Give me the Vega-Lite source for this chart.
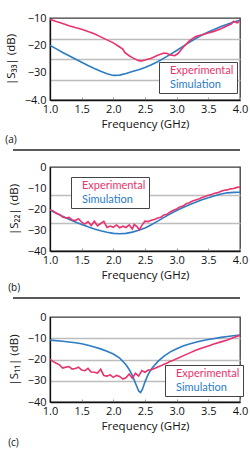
{
  "$schema": "https://vega.github.io/schema/vega-lite/v6.json",
  "padding": {"left": 4, "top": 11, "right": 4, "bottom": 0},
  "background": "white",
  "spacing": 2,
  "resolve": {"scale": {"color": "independent"}, "legend": {"color": "independent"}},
  "config": {
    "font": "Open Sans",
    "view": {"stroke": "#3a3a3a", "strokeWidth": 1.3},
    "axis": {
      "labelFont": "Open Sans", "labelFontSize": 11, "labelColor": "#111",
      "titleFont": "Open Sans", "titleFontSize": 11.5, "titleFontWeight": "normal", "titleColor": "#111",
      "domainColor": "#111", "domainWidth": 1.3,
      "gridColor": "#bdbdbd", "gridWidth": 1.4,
      "labelFlush": false, "labelOverlap": false
    },
    "axisX": {"grid": false, "tickSize": -3, "tickColor": "#9a9a9a", "tickWidth": 1, "labelPadding": 6, "titlePadding": 4},
    "axisY": {"ticks": false, "labelPadding": 4, "titlePadding": 8},
    "legend": {
      "orient": "none", "title": null,
      "symbolType": "circle", "symbolSize": 0.01, "symbolStrokeWidth": 0.01, "symbolOpacity": 0, "labelOffset": -3,
      "strokeColor": "#444", "fillColor": "white", "padding": 3, "rowPadding": 2,
      "labelFont": "Lato", "labelFontSize": 11
    },
    "title": {"font": "Open Sans", "fontSize": 10, "fontWeight": "normal", "color": "#111", "orient": "bottom", "anchor": "start", "frame": "bounds"},
    "line": {"strokeWidth": 1.6}
  },
  "vconcat": [
    {
      "width": 190, "height": 82,
      "title": {"text": "(a)", "offset": 5},
      "data": {"values": [
        {"f": 1.0, "dB": -20.0, "series": "Simulation"},
        {"f": 1.1, "dB": -21.3, "series": "Simulation"},
        {"f": 1.2, "dB": -22.6, "series": "Simulation"},
        {"f": 1.3, "dB": -23.8, "series": "Simulation"},
        {"f": 1.4, "dB": -25.0, "series": "Simulation"},
        {"f": 1.5, "dB": -26.2, "series": "Simulation"},
        {"f": 1.6, "dB": -27.4, "series": "Simulation"},
        {"f": 1.7, "dB": -28.5, "series": "Simulation"},
        {"f": 1.8, "dB": -29.5, "series": "Simulation"},
        {"f": 1.9, "dB": -30.4, "series": "Simulation"},
        {"f": 2.0, "dB": -31.0, "series": "Simulation"},
        {"f": 2.1, "dB": -30.9, "series": "Simulation"},
        {"f": 2.2, "dB": -30.3, "series": "Simulation"},
        {"f": 2.3, "dB": -29.6, "series": "Simulation"},
        {"f": 2.4, "dB": -28.9, "series": "Simulation"},
        {"f": 2.5, "dB": -28.1, "series": "Simulation"},
        {"f": 2.6, "dB": -27.1, "series": "Simulation"},
        {"f": 2.7, "dB": -26.0, "series": "Simulation"},
        {"f": 2.8, "dB": -24.7, "series": "Simulation"},
        {"f": 2.9, "dB": -23.3, "series": "Simulation"},
        {"f": 3.0, "dB": -21.9, "series": "Simulation"},
        {"f": 3.1, "dB": -20.4, "series": "Simulation"},
        {"f": 3.2, "dB": -18.9, "series": "Simulation"},
        {"f": 3.3, "dB": -17.5, "series": "Simulation"},
        {"f": 3.4, "dB": -16.2, "series": "Simulation"},
        {"f": 3.5, "dB": -15.1, "series": "Simulation"},
        {"f": 3.6, "dB": -14.1, "series": "Simulation"},
        {"f": 3.7, "dB": -13.1, "series": "Simulation"},
        {"f": 3.8, "dB": -12.3, "series": "Simulation"},
        {"f": 3.9, "dB": -11.5, "series": "Simulation"},
        {"f": 4.0, "dB": -10.8, "series": "Simulation"},
        {"f": 1.0, "dB": -10.5, "series": "Experimental"},
        {"f": 1.1, "dB": -11.3, "series": "Experimental"},
        {"f": 1.2, "dB": -12.0, "series": "Experimental"},
        {"f": 1.3, "dB": -12.8, "series": "Experimental"},
        {"f": 1.4, "dB": -13.5, "series": "Experimental"},
        {"f": 1.5, "dB": -14.1, "series": "Experimental"},
        {"f": 1.6, "dB": -14.9, "series": "Experimental"},
        {"f": 1.7, "dB": -15.8, "series": "Experimental"},
        {"f": 1.8, "dB": -16.9, "series": "Experimental"},
        {"f": 1.9, "dB": -18.0, "series": "Experimental"},
        {"f": 2.0, "dB": -19.1, "series": "Experimental"},
        {"f": 2.1, "dB": -20.6, "series": "Experimental"},
        {"f": 2.15, "dB": -21.4, "series": "Experimental"},
        {"f": 2.18, "dB": -22.6, "series": "Experimental"},
        {"f": 2.25, "dB": -23.8, "series": "Experimental"},
        {"f": 2.3, "dB": -24.5, "series": "Experimental"},
        {"f": 2.4, "dB": -25.6, "series": "Experimental"},
        {"f": 2.45, "dB": -25.7, "series": "Experimental"},
        {"f": 2.5, "dB": -25.4, "series": "Experimental"},
        {"f": 2.6, "dB": -24.7, "series": "Experimental"},
        {"f": 2.7, "dB": -23.6, "series": "Experimental"},
        {"f": 2.8, "dB": -22.8, "series": "Experimental"},
        {"f": 2.85, "dB": -23.0, "series": "Experimental"},
        {"f": 2.9, "dB": -23.5, "series": "Experimental"},
        {"f": 2.97, "dB": -23.8, "series": "Experimental"},
        {"f": 3.02, "dB": -23.0, "series": "Experimental"},
        {"f": 3.1, "dB": -20.8, "series": "Experimental"},
        {"f": 3.2, "dB": -18.4, "series": "Experimental"},
        {"f": 3.3, "dB": -16.8, "series": "Experimental"},
        {"f": 3.4, "dB": -16.1, "series": "Experimental"},
        {"f": 3.5, "dB": -15.5, "series": "Experimental"},
        {"f": 3.6, "dB": -14.8, "series": "Experimental"},
        {"f": 3.7, "dB": -13.9, "series": "Experimental"},
        {"f": 3.8, "dB": -12.8, "series": "Experimental"},
        {"f": 3.86, "dB": -12.2, "series": "Experimental"},
        {"f": 3.9, "dB": -11.2, "series": "Experimental"},
        {"f": 3.93, "dB": -11.6, "series": "Experimental"},
        {"f": 3.96, "dB": -11.8, "series": "Experimental"},
        {"f": 4.0, "dB": -10.8, "series": "Experimental"}
      ]},
      "mark": {"type": "line", "clip": true},
      "encoding": {
        "x": {"field": "f", "type": "quantitative", "scale": {"domain": [1, 4], "nice": false},
              "axis": {"title": "Frequency (GHz)", "values": [1, 1.5, 2, 2.5, 3, 3.5, 4], "format": ".1f"}},
        "y": {"field": "dB", "type": "quantitative", "scale": {"domain": [-40, -10], "nice": false},
              "axis": {"title": "|S₃₃| (dB)", "values": [-10, -17.5, -20, -25, -30, -32.5, -40], "labelOverlap": false,
                       "labelExpr": "indexof([-10, -20, -30, -40], datum.value) < 0 ? '' : (datum.value === -40 ? '−4.0' : format(datum.value, 'd'))",
                       "gridOpacity": {"condition": {"test": "indexof([-17.5, -25, -32.5], datum.value) >= 0", "value": 1}, "value": 0}}},
        "color": {"field": "series", "type": "nominal",
                  "scale": {"domain": ["Experimental", "Simulation"], "range": ["#e8336d", "#2b7cc4"]},
                  "legend": {"legendX": 109, "legendY": 44,
                             "labelColor": {"expr": "datum.value === 'Experimental' ? '#e8336d' : '#2b7cc4'"}}}
      }
    },
    {
      "width": 190, "height": 84,
      "title": {"text": "(b)", "offset": 2},
      "data": {"values": [
        {"f": 1.0, "dB": -20.5, "series": "Simulation"},
        {"f": 1.1, "dB": -22.0, "series": "Simulation"},
        {"f": 1.2, "dB": -23.5, "series": "Simulation"},
        {"f": 1.3, "dB": -24.9, "series": "Simulation"},
        {"f": 1.4, "dB": -26.2, "series": "Simulation"},
        {"f": 1.5, "dB": -27.4, "series": "Simulation"},
        {"f": 1.6, "dB": -28.5, "series": "Simulation"},
        {"f": 1.7, "dB": -29.5, "series": "Simulation"},
        {"f": 1.8, "dB": -30.4, "series": "Simulation"},
        {"f": 1.9, "dB": -31.1, "series": "Simulation"},
        {"f": 2.0, "dB": -31.6, "series": "Simulation"},
        {"f": 2.1, "dB": -31.8, "series": "Simulation"},
        {"f": 2.2, "dB": -31.6, "series": "Simulation"},
        {"f": 2.3, "dB": -31.0, "series": "Simulation"},
        {"f": 2.4, "dB": -30.1, "series": "Simulation"},
        {"f": 2.5, "dB": -29.0, "series": "Simulation"},
        {"f": 2.6, "dB": -27.5, "series": "Simulation"},
        {"f": 2.7, "dB": -25.8, "series": "Simulation"},
        {"f": 2.8, "dB": -24.0, "series": "Simulation"},
        {"f": 2.9, "dB": -22.3, "series": "Simulation"},
        {"f": 3.0, "dB": -20.7, "series": "Simulation"},
        {"f": 3.1, "dB": -19.3, "series": "Simulation"},
        {"f": 3.2, "dB": -18.0, "series": "Simulation"},
        {"f": 3.3, "dB": -16.8, "series": "Simulation"},
        {"f": 3.4, "dB": -15.6, "series": "Simulation"},
        {"f": 3.5, "dB": -14.6, "series": "Simulation"},
        {"f": 3.6, "dB": -13.7, "series": "Simulation"},
        {"f": 3.7, "dB": -12.9, "series": "Simulation"},
        {"f": 3.8, "dB": -12.3, "series": "Simulation"},
        {"f": 3.9, "dB": -12.1, "series": "Simulation"},
        {"f": 4.0, "dB": -12.0, "series": "Simulation"},
        {"f": 1.0, "dB": -20.3, "series": "Experimental"},
        {"f": 1.05, "dB": -21.0, "series": "Experimental"},
        {"f": 1.1, "dB": -22.0, "series": "Experimental"},
        {"f": 1.15, "dB": -22.6, "series": "Experimental"},
        {"f": 1.2, "dB": -23.8, "series": "Experimental"},
        {"f": 1.25, "dB": -24.3, "series": "Experimental"},
        {"f": 1.3, "dB": -24.0, "series": "Experimental"},
        {"f": 1.35, "dB": -25.2, "series": "Experimental"},
        {"f": 1.4, "dB": -25.5, "series": "Experimental"},
        {"f": 1.45, "dB": -24.6, "series": "Experimental"},
        {"f": 1.5, "dB": -26.3, "series": "Experimental"},
        {"f": 1.55, "dB": -27.2, "series": "Experimental"},
        {"f": 1.6, "dB": -26.0, "series": "Experimental"},
        {"f": 1.65, "dB": -27.8, "series": "Experimental"},
        {"f": 1.7, "dB": -25.8, "series": "Experimental"},
        {"f": 1.75, "dB": -28.0, "series": "Experimental"},
        {"f": 1.8, "dB": -26.9, "series": "Experimental"},
        {"f": 1.85, "dB": -25.9, "series": "Experimental"},
        {"f": 1.9, "dB": -28.8, "series": "Experimental"},
        {"f": 1.95, "dB": -28.1, "series": "Experimental"},
        {"f": 2.0, "dB": -28.7, "series": "Experimental"},
        {"f": 2.05, "dB": -27.6, "series": "Experimental"},
        {"f": 2.1, "dB": -28.9, "series": "Experimental"},
        {"f": 2.15, "dB": -28.2, "series": "Experimental"},
        {"f": 2.2, "dB": -28.8, "series": "Experimental"},
        {"f": 2.25, "dB": -27.6, "series": "Experimental"},
        {"f": 2.3, "dB": -29.5, "series": "Experimental"},
        {"f": 2.33, "dB": -27.3, "series": "Experimental"},
        {"f": 2.38, "dB": -28.6, "series": "Experimental"},
        {"f": 2.41, "dB": -30.0, "series": "Experimental"},
        {"f": 2.45, "dB": -27.8, "series": "Experimental"},
        {"f": 2.5, "dB": -25.8, "series": "Experimental"},
        {"f": 2.55, "dB": -26.0, "series": "Experimental"},
        {"f": 2.6, "dB": -25.4, "series": "Experimental"},
        {"f": 2.65, "dB": -25.0, "series": "Experimental"},
        {"f": 2.7, "dB": -24.3, "series": "Experimental"},
        {"f": 2.75, "dB": -23.9, "series": "Experimental"},
        {"f": 2.8, "dB": -22.8, "series": "Experimental"},
        {"f": 2.85, "dB": -22.5, "series": "Experimental"},
        {"f": 2.9, "dB": -21.4, "series": "Experimental"},
        {"f": 2.95, "dB": -20.6, "series": "Experimental"},
        {"f": 3.0, "dB": -20.0, "series": "Experimental"},
        {"f": 3.05, "dB": -19.0, "series": "Experimental"},
        {"f": 3.1, "dB": -18.6, "series": "Experimental"},
        {"f": 3.15, "dB": -17.5, "series": "Experimental"},
        {"f": 3.2, "dB": -17.0, "series": "Experimental"},
        {"f": 3.25, "dB": -16.2, "series": "Experimental"},
        {"f": 3.3, "dB": -15.7, "series": "Experimental"},
        {"f": 3.35, "dB": -15.2, "series": "Experimental"},
        {"f": 3.4, "dB": -14.5, "series": "Experimental"},
        {"f": 3.45, "dB": -14.1, "series": "Experimental"},
        {"f": 3.5, "dB": -13.5, "series": "Experimental"},
        {"f": 3.55, "dB": -13.1, "series": "Experimental"},
        {"f": 3.6, "dB": -12.5, "series": "Experimental"},
        {"f": 3.65, "dB": -12.2, "series": "Experimental"},
        {"f": 3.7, "dB": -11.6, "series": "Experimental"},
        {"f": 3.75, "dB": -11.1, "series": "Experimental"},
        {"f": 3.8, "dB": -10.9, "series": "Experimental"},
        {"f": 3.85, "dB": -10.4, "series": "Experimental"},
        {"f": 3.9, "dB": -10.2, "series": "Experimental"},
        {"f": 3.95, "dB": -9.7, "series": "Experimental"},
        {"f": 4.0, "dB": -9.5, "series": "Experimental"}
      ]},
      "layer": [
        {
          "mark": {"type": "line", "clip": true},
          "encoding": {
            "x": {"field": "f", "type": "quantitative", "scale": {"domain": [1, 4], "nice": false},
                  "axis": {"title": "Frequency (GHz)", "values": [1, 1.5, 2, 2.5, 3, 3.5, 4], "format": ".1f"}},
            "y": {"field": "dB", "type": "quantitative", "scale": {"domain": [-40, 0], "nice": false},
                  "axis": {"title": "|S₂₂| (dB)", "values": [0, -10, -13.33, -20, -26.67, -30, -40], "labelOverlap": false,
                           "labelExpr": "indexof([0, -10, -20, -30, -40], datum.value) < 0 ? '' : format(datum.value, 'd')",
                           "gridOpacity": {"condition": {"test": "indexof([-13.33, -26.67], datum.value) >= 0", "value": 1}, "value": 0}}},
            "color": {"field": "series", "type": "nominal",
                      "scale": {"domain": ["Experimental", "Simulation"], "range": ["#e8336d", "#2b7cc4"]},
                      "legend": {"legendX": 21, "legendY": 10,
                                 "labelColor": {"expr": "datum.value === 'Experimental' ? '#e8336d' : '#2b7cc4'"}}}
          }
        },
        {
          "mark": {"type": "rule", "color": "#5a5a5a", "strokeWidth": 1},
          "encoding": {
            "x": {"datum": 0.42, "type": "quantitative", "scale": {"domain": [1, 4], "nice": false},
                  "axis": {"title": "Frequency (GHz)", "values": [1, 1.5, 2, 2.5, 3, 3.5, 4], "format": ".1f"}},
            "x2": {"datum": 4.0},
            "y": {"datum": 8.2, "type": "quantitative", "scale": {"domain": [-40, 0], "nice": false},
                  "axis": {"title": "|S₂₂| (dB)", "values": [0, -10, -13.33, -20, -26.67, -30, -40], "labelOverlap": false,
                           "labelExpr": "indexof([0, -10, -20, -30, -40], datum.value) < 0 ? '' : format(datum.value, 'd')",
                           "gridOpacity": {"condition": {"test": "indexof([-13.33, -26.67], datum.value) >= 0", "value": 1}, "value": 0}}}
          }
        }
      ]
    },
    {
      "width": 190, "height": 85,
      "title": {"text": "(c)", "offset": 6},
      "data": {"values": [
        {"f": 1.0, "dB": -10.9, "series": "Simulation"},
        {"f": 1.2, "dB": -11.4, "series": "Simulation"},
        {"f": 1.4, "dB": -12.1, "series": "Simulation"},
        {"f": 1.5, "dB": -12.6, "series": "Simulation"},
        {"f": 1.6, "dB": -13.3, "series": "Simulation"},
        {"f": 1.7, "dB": -14.1, "series": "Simulation"},
        {"f": 1.8, "dB": -15.0, "series": "Simulation"},
        {"f": 1.9, "dB": -16.1, "series": "Simulation"},
        {"f": 2.0, "dB": -17.4, "series": "Simulation"},
        {"f": 2.1, "dB": -19.3, "series": "Simulation"},
        {"f": 2.2, "dB": -22.5, "series": "Simulation"},
        {"f": 2.25, "dB": -24.7, "series": "Simulation"},
        {"f": 2.3, "dB": -27.5, "series": "Simulation"},
        {"f": 2.35, "dB": -31.2, "series": "Simulation"},
        {"f": 2.4, "dB": -34.8, "series": "Simulation"},
        {"f": 2.43, "dB": -35.5, "series": "Simulation"},
        {"f": 2.46, "dB": -34.0, "series": "Simulation"},
        {"f": 2.5, "dB": -30.5, "series": "Simulation"},
        {"f": 2.55, "dB": -27.0, "series": "Simulation"},
        {"f": 2.6, "dB": -24.5, "series": "Simulation"},
        {"f": 2.7, "dB": -21.0, "series": "Simulation"},
        {"f": 2.8, "dB": -18.4, "series": "Simulation"},
        {"f": 2.9, "dB": -16.4, "series": "Simulation"},
        {"f": 3.0, "dB": -14.9, "series": "Simulation"},
        {"f": 3.1, "dB": -13.7, "series": "Simulation"},
        {"f": 3.2, "dB": -12.7, "series": "Simulation"},
        {"f": 3.3, "dB": -11.9, "series": "Simulation"},
        {"f": 3.4, "dB": -11.2, "series": "Simulation"},
        {"f": 3.5, "dB": -10.6, "series": "Simulation"},
        {"f": 3.6, "dB": -10.1, "series": "Simulation"},
        {"f": 3.7, "dB": -9.6, "series": "Simulation"},
        {"f": 3.8, "dB": -9.2, "series": "Simulation"},
        {"f": 3.9, "dB": -8.8, "series": "Simulation"},
        {"f": 4.0, "dB": -8.5, "series": "Simulation"},
        {"f": 1.0, "dB": -19.8, "series": "Experimental"},
        {"f": 1.05, "dB": -21.0, "series": "Experimental"},
        {"f": 1.1, "dB": -21.8, "series": "Experimental"},
        {"f": 1.15, "dB": -22.5, "series": "Experimental"},
        {"f": 1.2, "dB": -24.0, "series": "Experimental"},
        {"f": 1.25, "dB": -23.6, "series": "Experimental"},
        {"f": 1.3, "dB": -23.3, "series": "Experimental"},
        {"f": 1.35, "dB": -24.5, "series": "Experimental"},
        {"f": 1.4, "dB": -24.2, "series": "Experimental"},
        {"f": 1.45, "dB": -23.6, "series": "Experimental"},
        {"f": 1.5, "dB": -25.0, "series": "Experimental"},
        {"f": 1.55, "dB": -25.3, "series": "Experimental"},
        {"f": 1.6, "dB": -24.2, "series": "Experimental"},
        {"f": 1.65, "dB": -25.9, "series": "Experimental"},
        {"f": 1.7, "dB": -26.0, "series": "Experimental"},
        {"f": 1.75, "dB": -26.4, "series": "Experimental"},
        {"f": 1.8, "dB": -24.6, "series": "Experimental"},
        {"f": 1.85, "dB": -27.5, "series": "Experimental"},
        {"f": 1.9, "dB": -27.8, "series": "Experimental"},
        {"f": 1.95, "dB": -27.2, "series": "Experimental"},
        {"f": 2.0, "dB": -28.4, "series": "Experimental"},
        {"f": 2.05, "dB": -27.5, "series": "Experimental"},
        {"f": 2.1, "dB": -28.0, "series": "Experimental"},
        {"f": 2.15, "dB": -29.2, "series": "Experimental"},
        {"f": 2.2, "dB": -28.6, "series": "Experimental"},
        {"f": 2.25, "dB": -26.8, "series": "Experimental"},
        {"f": 2.3, "dB": -28.8, "series": "Experimental"},
        {"f": 2.35, "dB": -26.5, "series": "Experimental"},
        {"f": 2.4, "dB": -27.8, "series": "Experimental"},
        {"f": 2.45, "dB": -25.2, "series": "Experimental"},
        {"f": 2.5, "dB": -26.0, "series": "Experimental"},
        {"f": 2.55, "dB": -25.0, "series": "Experimental"},
        {"f": 2.6, "dB": -24.8, "series": "Experimental"},
        {"f": 2.65, "dB": -24.2, "series": "Experimental"},
        {"f": 2.7, "dB": -23.5, "series": "Experimental"},
        {"f": 2.75, "dB": -23.0, "series": "Experimental"},
        {"f": 2.8, "dB": -22.2, "series": "Experimental"},
        {"f": 2.85, "dB": -21.6, "series": "Experimental"},
        {"f": 2.9, "dB": -20.8, "series": "Experimental"},
        {"f": 2.95, "dB": -20.3, "series": "Experimental"},
        {"f": 3.0, "dB": -19.6, "series": "Experimental"},
        {"f": 3.1, "dB": -18.3, "series": "Experimental"},
        {"f": 3.2, "dB": -17.0, "series": "Experimental"},
        {"f": 3.3, "dB": -15.7, "series": "Experimental"},
        {"f": 3.4, "dB": -14.6, "series": "Experimental"},
        {"f": 3.5, "dB": -13.6, "series": "Experimental"},
        {"f": 3.6, "dB": -12.6, "series": "Experimental"},
        {"f": 3.7, "dB": -11.7, "series": "Experimental"},
        {"f": 3.8, "dB": -10.8, "series": "Experimental"},
        {"f": 3.9, "dB": -9.7, "series": "Experimental"},
        {"f": 4.0, "dB": -8.6, "series": "Experimental"}
      ]},
      "layer": [
        {
          "mark": {"type": "line", "clip": true},
          "encoding": {
            "x": {"field": "f", "type": "quantitative", "scale": {"domain": [1, 4], "nice": false},
                  "axis": {"title": "Frequency (GHz)", "values": [1, 1.5, 2, 2.5, 3, 3.5, 4], "format": ".1f"}},
            "y": {"field": "dB", "type": "quantitative", "scale": {"domain": [-40, 0], "nice": false},
                  "axis": {"title": "|S₁₁| (dB)", "values": [0, -10, -20, -30, -40], "format": "d", "labelOverlap": false,
                           "gridOpacity": {"condition": {"test": "indexof([-10, -20, -30], datum.value) >= 0", "value": 1}, "value": 0}}},
            "color": {"field": "series", "type": "nominal",
                      "scale": {"domain": ["Experimental", "Simulation"], "range": ["#e8336d", "#2b7cc4"]},
                      "legend": {"legendX": 115, "legendY": 48,
                                 "labelColor": {"expr": "datum.value === 'Experimental' ? '#e8336d' : '#2b7cc4'"}}}
          }
        },
        {
          "mark": {"type": "rule", "color": "#5a5a5a", "strokeWidth": 1},
          "encoding": {
            "x": {"datum": 0.42, "type": "quantitative", "scale": {"domain": [1, 4], "nice": false},
                  "axis": {"title": "Frequency (GHz)", "values": [1, 1.5, 2, 2.5, 3, 3.5, 4], "format": ".1f"}},
            "x2": {"datum": 4.0},
            "y": {"datum": 8.9, "type": "quantitative", "scale": {"domain": [-40, 0], "nice": false},
                  "axis": {"title": "|S₁₁| (dB)", "values": [0, -10, -20, -30, -40], "format": "d", "labelOverlap": false,
                           "gridOpacity": {"condition": {"test": "indexof([-10, -20, -30], datum.value) >= 0", "value": 1}, "value": 0}}}
          }
        }
      ]
    }
  ]
}
